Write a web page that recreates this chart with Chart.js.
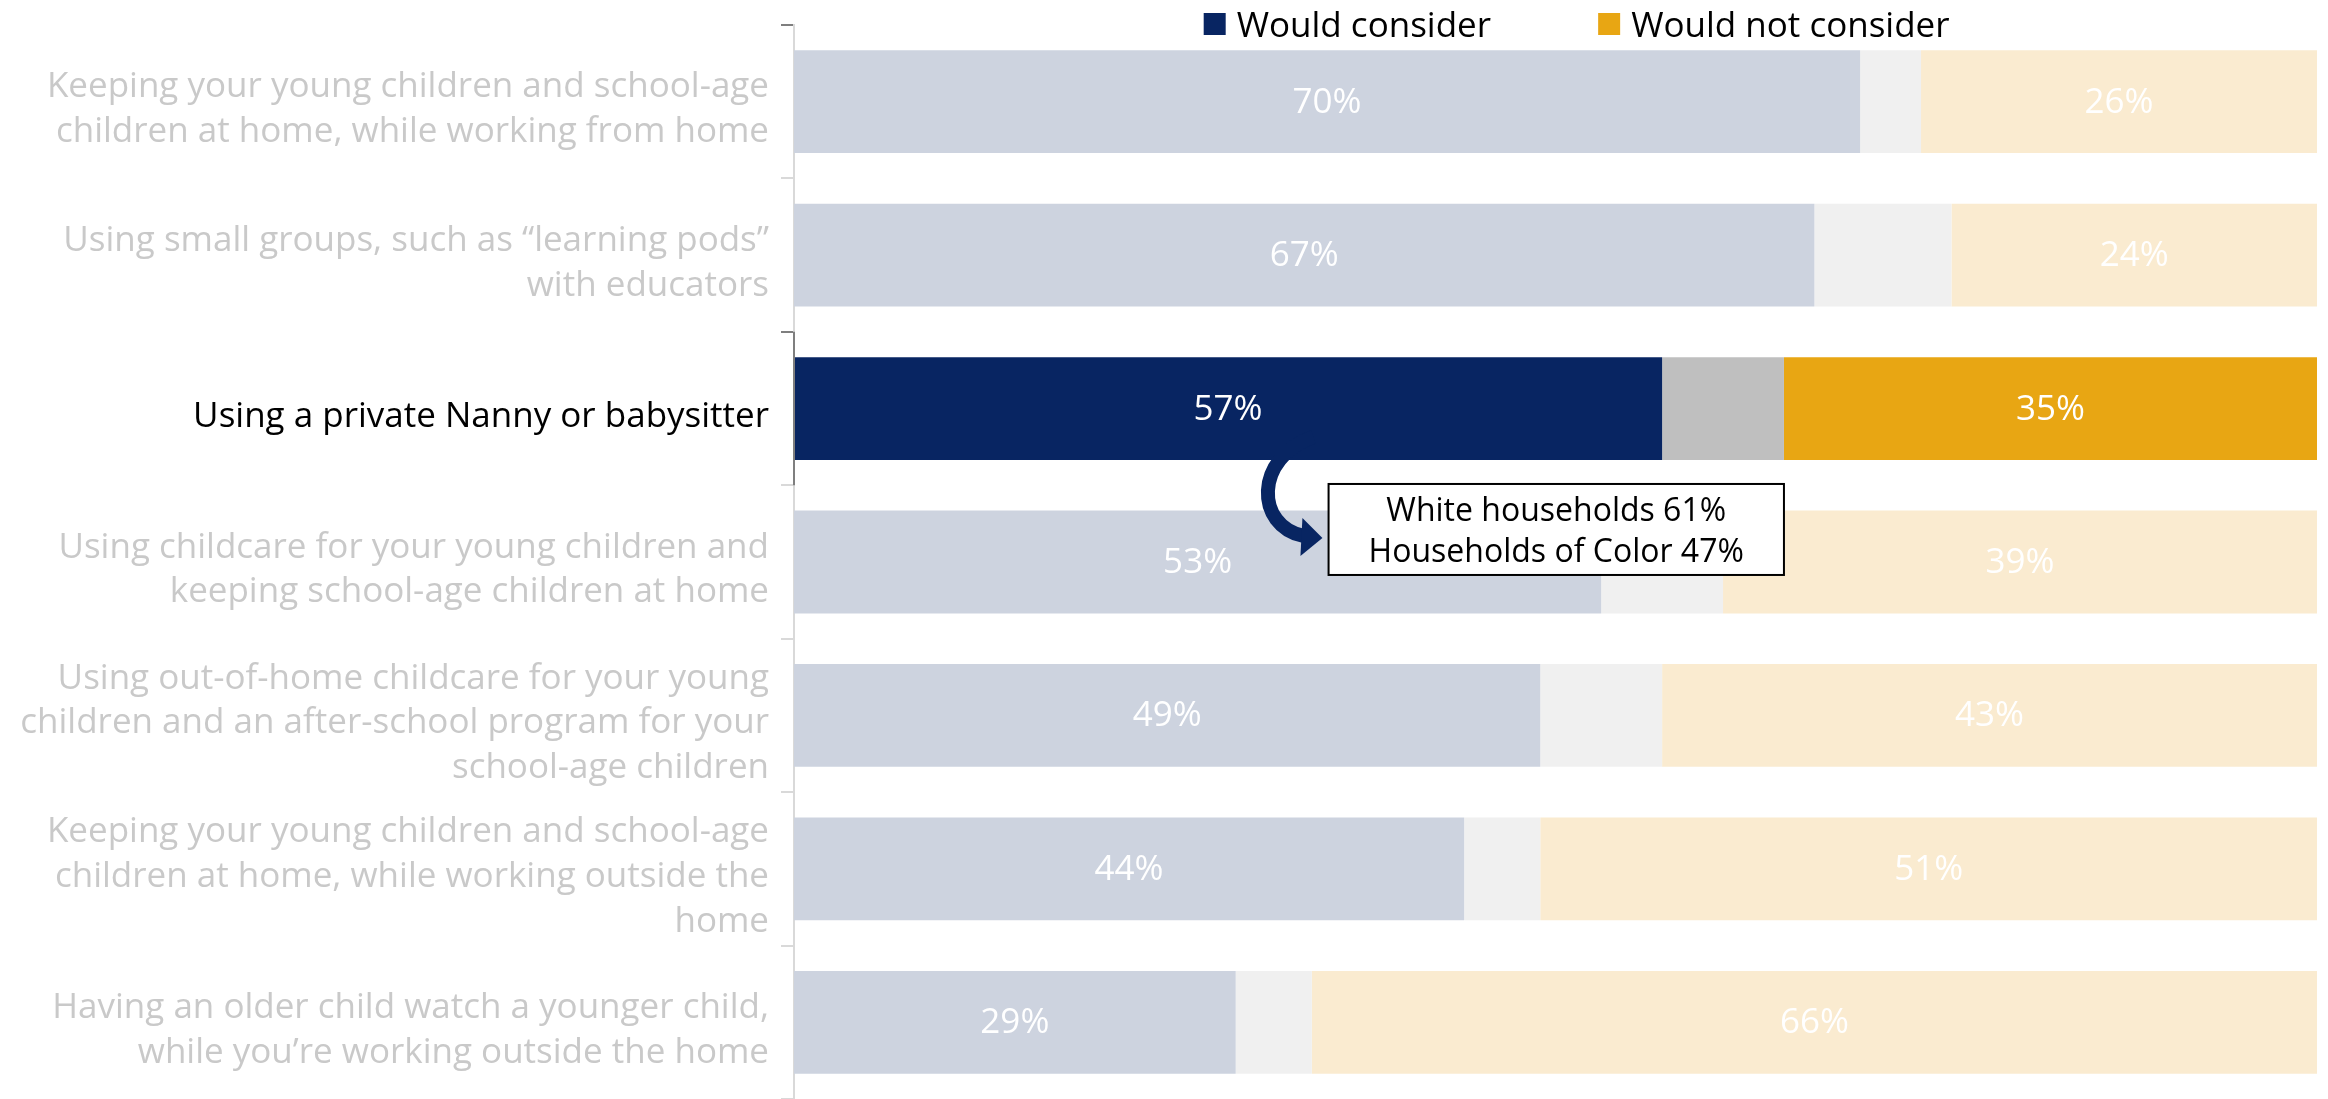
<!DOCTYPE html>
<html>
<head>
<meta charset="utf-8">
<script src="https://cdn.jsdelivr.net/npm/chart.js@4.4.1/dist/chart.umd.min.js"></script>
<style>
  html, body { margin: 0; padding: 0; background: #fff; overflow: hidden; }
  #wrap { position: relative; width: 2328px; height: 1099px; }
</style>
</head>
<body>
<div id="wrap"><canvas id="chart"></canvas></div>
<script>
// categories, top to bottom
const categories = [
  ['Keeping your young children and school-age', 'children at home, while working from home'],
  ['Using small groups, such as \u201clearning pods\u201d', 'with educators'],
  'Using a private Nanny or babysitter',
  ['Using childcare for your young children and', 'keeping school-age children at home'],
  ['Using out-of-home childcare for your young', 'children and an after-school program for your', 'school-age children'],
  ['Keeping your young children and school-age', 'children at home, while working outside the', 'home'],
  ['Having an older child watch a younger child,', 'while you\u2019re working outside the home']
];

const wouldConsider    = [70, 67, 57, 53, 49, 44, 29];
const notSure          = [4, 9, 8, 8, 8, 5, 5];
const wouldNotConsider = [26, 24, 35, 39, 43, 51, 66];

const highlightIndex = 2;
const calloutLines = ['White households 61%', 'Households of Color 47%'];

const FONT = '"Open Sans", "Noto Sans", sans-serif';

function shade(strong, faded) {
  return categories.map((_, i) => i === highlightIndex ? strong : faded);
}

// percent labels inside the consider / not consider segments
const valueLabels = {
  id: 'valueLabels',
  afterDatasetsDraw(chart) {
    const ctx = chart.ctx;
    ctx.save();
    ctx.font = '35px ' + FONT;
    ctx.fillStyle = '#ffffff';
    ctx.textAlign = 'center';
    ctx.textBaseline = 'middle';
    [0, 2].forEach(di => {
      const meta = chart.getDatasetMeta(di);
      const data = chart.data.datasets[di].data;
      meta.data.forEach((bar, i) => {
        const cx = (bar.x + bar.base) / 2;
        ctx.fillText(data[i] + '%', cx, bar.y + 1);
      });
    });
    ctx.restore();
  }
};

// legend, the dark axis segment and the callout with its arrow
const extras = {
  id: 'extras',
  afterDraw(chart) {
    const ctx = chart.ctx;
    const x = chart.scales.x;
    const y = chart.scales.y;
    ctx.save();

    // legend
    ctx.font = '35px ' + FONT;
    ctx.textBaseline = 'alphabetic';
    ctx.textAlign = 'left';
    const items = [
      { text: 'Would consider', color: '#082562', px: x.getPixelForValue(26.9) },
      { text: 'Would not consider', color: '#e8a613', px: x.getPixelForValue(52.8) }
    ];
    items.forEach(it => {
      ctx.fillStyle = it.color;
      ctx.fillRect(it.px, 13, 22, 22);
      ctx.fillStyle = '#000';
      ctx.fillText(it.text, it.px + 33, 37);
    });

    // dark axis line beside highlighted category
    const top = (y.getPixelForTick(highlightIndex - 1) + y.getPixelForTick(highlightIndex)) / 2;
    const bot = (y.getPixelForTick(highlightIndex) + y.getPixelForTick(highlightIndex + 1)) / 2;
    ctx.strokeStyle = '#7f7f7f';
    ctx.lineWidth = 2;
    ctx.beginPath();
    ctx.moveTo(chart.chartArea.left, top);
    ctx.lineTo(chart.chartArea.left, bot);
    ctx.stroke();

    // arrow
    const bar = chart.getDatasetMeta(0).data[highlightIndex];
    const ay = bar.y + bar.height / 2;
    const ax = x.getPixelForValue(34.5);
    ctx.strokeStyle = '#082562';
    ctx.lineWidth = 14;
    ctx.lineCap = 'butt';
    ctx.beginPath();
    ctx.moveTo(ax - 6, ay - 23);
    ctx.bezierCurveTo(ax - 66, ay - 2, ax - 64, ay + 66, ax - 16, ay + 76);
    ctx.stroke();
    ctx.fillStyle = '#082562';
    ctx.beginPath();
    ctx.moveTo(ax + 3, ay + 78);
    ctx.lineTo(ax - 17, ay + 58);
    ctx.lineTo(ax - 19, ay + 96);
    ctx.closePath();
    ctx.fill();

    // callout box
    const bx1 = x.getPixelForValue(35.1);
    const bx2 = x.getPixelForValue(65);
    const by1 = ay + 24;
    const by2 = ay + 115;
    ctx.fillStyle = '#ffffff';
    ctx.fillRect(bx1, by1, bx2 - bx1, by2 - by1);
    ctx.strokeStyle = '#000';
    ctx.lineWidth = 2;
    ctx.strokeRect(bx1, by1, bx2 - bx1, by2 - by1);
    ctx.fillStyle = '#000';
    ctx.font = '32px ' + FONT;
    ctx.textAlign = 'center';
    ctx.textBaseline = 'alphabetic';
    ctx.fillText(calloutLines[0], (bx1 + bx2) / 2, by1 + 37);
    ctx.fillText(calloutLines[1], (bx1 + bx2) / 2, by1 + 78);

    ctx.restore();
  }
};

new Chart(document.getElementById('chart'), {
  type: 'bar',
  data: {
    labels: categories,
    datasets: [
      { label: 'Would consider', data: wouldConsider, backgroundColor: shade('#082562', '#cdd3df') },
      { label: 'Not sure', data: notSure, backgroundColor: shade('#bfbfbf', '#f0f0f0') },
      { label: 'Would not consider', data: wouldNotConsider, backgroundColor: shade('#e8a613', '#faebd0') }
    ]
  },
  options: {
    indexAxis: 'y',
    responsive: true,
    maintainAspectRatio: false,
    animation: false,
    layout: { padding: { top: 25, right: 11, bottom: 0, left: 0 } },
    datasets: { bar: { categoryPercentage: 1, barPercentage: 0.67 } },
    plugins: {
      legend: { display: false },
      tooltip: { enabled: false }
    },
    scales: {
      x: { stacked: true, min: 0, max: 100, display: false },
      y: {
        stacked: true,
        afterFit(scale) {
          scale.width = 794;
          scale.paddingTop = 0;
          scale.paddingBottom = 0;
        },
        border: { display: true, color: '#d9d9d9', width: 2 },
        grid: {
          offset: true,
          drawOnChartArea: false,
          tickLength: 13,
          color: ctx => (ctx.index === 0 || ctx.index === highlightIndex) ? '#7f7f7f' : '#d9d9d9',
          lineWidth: 2
        },
        ticks: {
          padding: 12,
          autoSkip: false,
          labelOffset: 8,
          font: { family: FONT, size: 35, lineHeight: 1.28 },
          color: ctx => ctx.index === highlightIndex ? '#000000' : '#c9c9c9'
        }
      }
    }
  },
  plugins: [valueLabels, extras]
});
</script>
</body>
</html>
